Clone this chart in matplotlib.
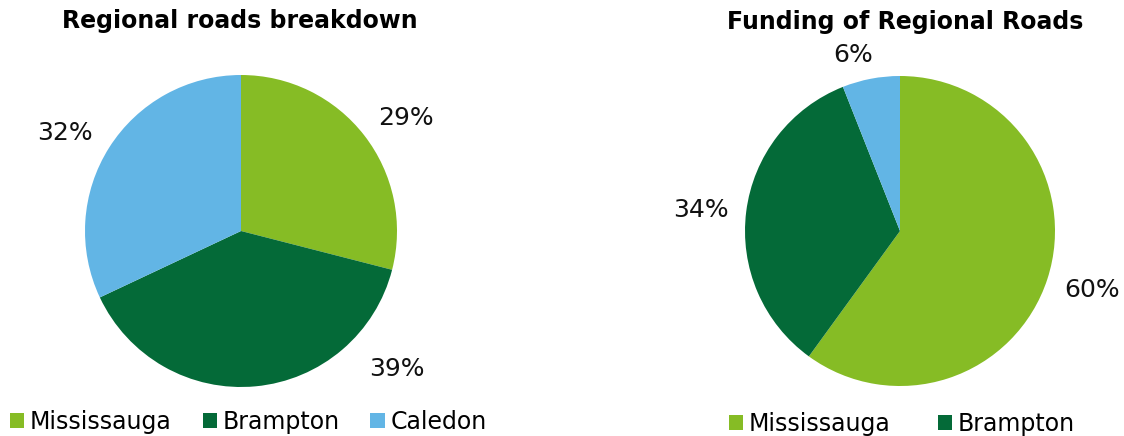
import matplotlib
matplotlib.use("Agg")
import matplotlib.pyplot as plt
from matplotlib.patches import Patch

plt.rcParams['font.family'] = ['DejaVu Sans']

categories = ["Mississauga", "Brampton", "Caledon"]
colors = ["#86BC25", "#046A38", "#62B5E5"]
roads_share = [29, 39, 32]
funding_share = [60, 34, 6]
titles = ["Regional roads breakdown", "Funding of Regional Roads"]

# label placement (layout only, in pie-radius units)
roads_label_pos = [(1.058, 0.724), (1.0, -0.885), (-1.128, 0.628)]
funding_label_pos = [(1.239, -0.381), (-1.284, 0.135), (-0.303, 1.135)]

W, H = 1124, 436
fig = plt.figure(figsize=(W / 100, H / 100), dpi=100)


def px_axes(cx, cy, r):
    return fig.add_axes([(cx - r) / W, (H - cy - r) / H, 2 * r / W, 2 * r / H])


def draw_pie(ax, values, label_pos):
    ax.pie(values, colors=colors, startangle=90, counterclock=False,
           wedgeprops=dict(linewidth=0))
    total = sum(values)
    for v, (x, y) in zip(values, label_pos):
        ax.text(x, y, f"{100 * v / total:.0f}%", ha='center', va='center',
                fontsize=18, color="#111111")
    ax.set_xlim(-1, 1)
    ax.set_ylim(-1, 1)
    ax.set_aspect('equal')
    ax.axis('off')


ax1 = px_axes(241, 231, 156)
draw_pie(ax1, roads_share, roads_label_pos)
ax2 = px_axes(900, 231, 155)
draw_pie(ax2, funding_share, funding_label_pos)

fig.text(240 / W, 1 - 21 / H, titles[0], ha='center', va='center',
         fontsize=17, fontweight='bold')
fig.text(905 / W, 1 - 22 / H, titles[1], ha='center', va='center',
         fontsize=17, fontweight='bold')

handles = [Patch(facecolor=c, edgecolor='none') for c in colors]
fig.legend(handles, categories, loc='center left',
           bbox_to_anchor=(10 / W, 1 - 422 / H), ncol=3, frameon=False,
           fontsize=17, handlelength=0.6, handleheight=0.6,
           handletextpad=0.25, columnspacing=1.3, borderaxespad=0,
           borderpad=0)
fig.legend(handles[:2], categories[:2], loc='center left',
           bbox_to_anchor=(729 / W, 1 - 424 / H), ncol=2, frameon=False,
           fontsize=17, handlelength=0.6, handleheight=0.6,
           handletextpad=0.25, columnspacing=2.0, borderaxespad=0,
           borderpad=0)

fig.savefig("out.png", dpi=100)
